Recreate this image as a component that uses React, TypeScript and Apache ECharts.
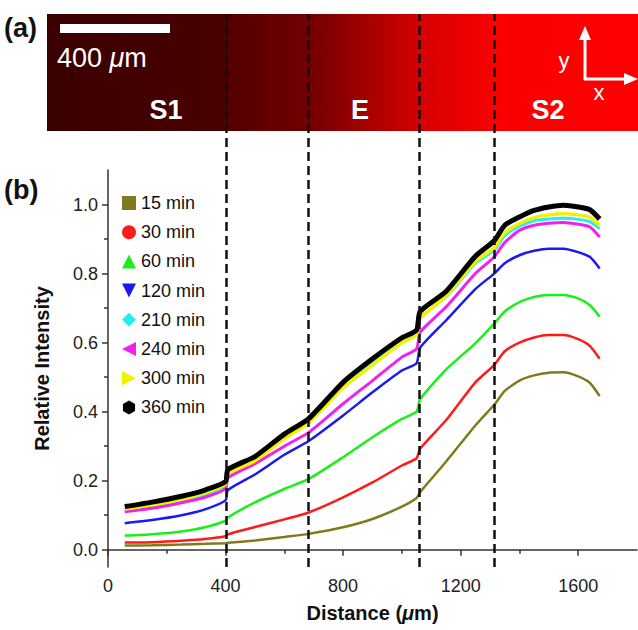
import React, { useEffect, useRef } from "react";
import * as echarts from "echarts";

// Distance positions (µm) at which the profiles were read
const DIST = [57, 150, 250, 330, 400, 408, 500, 600, 683, 800, 900, 1000, 1050, 1062, 1150, 1250, 1314, 1350, 1400, 1450, 1500, 1550, 1600, 1640, 1673];

const V15 = [0.012, 0.013, 0.015, 0.017, 0.019, 0.020, 0.027, 0.037, 0.046, 0.065, 0.089, 0.125, 0.150, 0.167, 0.255, 0.360, 0.420, 0.460, 0.490, 0.505, 0.513, 0.514, 0.502, 0.483, 0.445];
const V30 = [0.021, 0.022, 0.026, 0.031, 0.039, 0.045, 0.066, 0.088, 0.108, 0.152, 0.195, 0.244, 0.265, 0.293, 0.375, 0.485, 0.535, 0.575, 0.600, 0.615, 0.622, 0.622, 0.610, 0.590, 0.553];
const V60 = [0.041, 0.045, 0.053, 0.065, 0.084, 0.094, 0.137, 0.176, 0.205, 0.268, 0.326, 0.379, 0.400, 0.436, 0.522, 0.598, 0.655, 0.690, 0.717, 0.732, 0.738, 0.738, 0.728, 0.708, 0.675];
const V120 = [0.077, 0.086, 0.100, 0.117, 0.143, 0.173, 0.218, 0.275, 0.315, 0.389, 0.456, 0.519, 0.540, 0.585, 0.664, 0.755, 0.800, 0.830, 0.853, 0.866, 0.872, 0.872, 0.862, 0.848, 0.815];
const V210 = [0.115, 0.126, 0.142, 0.160, 0.186, 0.218, 0.262, 0.325, 0.372, 0.475, 0.540, 0.605, 0.627, 0.672, 0.732, 0.830, 0.868, 0.910, 0.937, 0.953, 0.958, 0.960, 0.957, 0.950, 0.930];
const V240 = [0.110, 0.120, 0.136, 0.152, 0.177, 0.208, 0.249, 0.300, 0.340, 0.423, 0.490, 0.558, 0.582, 0.630, 0.703, 0.800, 0.848, 0.890, 0.925, 0.940, 0.946, 0.948, 0.943, 0.935, 0.906];
const V300 = [0.118, 0.130, 0.146, 0.165, 0.190, 0.220, 0.258, 0.322, 0.368, 0.470, 0.535, 0.600, 0.622, 0.670, 0.735, 0.835, 0.875, 0.918, 0.945, 0.962, 0.970, 0.973, 0.970, 0.963, 0.940];
const V360 = [0.125, 0.138, 0.155, 0.173, 0.197, 0.232, 0.270, 0.335, 0.380, 0.485, 0.553, 0.614, 0.636, 0.690, 0.748, 0.850, 0.895, 0.940, 0.964, 0.983, 0.993, 0.998, 0.993, 0.985, 0.958];

const NAMES = ["15 min", "30 min", "60 min", "120 min", "210 min", "240 min", "300 min", "360 min"];
const VALUES = [V15, V30, V60, V120, V210, V240, V300, V360];
const COLORS = ["#807a1c", "#ff1a1a", "#1aef1a", "#1a1af0", "#22eef0", "#f020f0", "#f5f000", "#000000"];
const WIDTHS = [2.5, 2.5, 2.5, 2.5, 3, 3, 3.5, 5];
const ICONS = [
  "rect",
  "circle",
  "triangle",
  "path://M0,0L10,0L5,10Z",
  "diamond",
  "path://M10,0L10,10L0,5Z",
  "path://M0,0L0,10L10,5Z",
  "path://M5,0L9.33,2.5L9.33,7.5L5,10L0.67,7.5L0.67,2.5Z",
];

const BOUNDARIES = [404, 683, 1058, 1314];
const X_LABELS = [0, 400, 800, 1200, 1600];
const X_MINOR = [200, 600, 1000, 1400];
const Y_LABELS = [0, 0.2, 0.4, 0.6, 0.8, 1.0];
const Y_MINOR = [0.1, 0.3, 0.5, 0.7, 0.9];
const REGION_LABELS = ["S1", "E", "S2"];

const FONT = "Arial, 'Liberation Sans', sans-serif";

export default function App() {
  const ref = useRef<HTMLDivElement>(null);

  useEffect(() => {
    if (!ref.current) return;
    const chart = echarts.init(ref.current, undefined, { renderer: "svg" });

    const G = { left: 108, top: 170, width: 529, height: 397 };
    const axisLine = { show: true, lineStyle: { color: "#333", width: 1.5 } };

    const series: any[] = NAMES.map((n, i) => ({
      name: n,
      type: "line",
      xAxisIndex: 0,
      yAxisIndex: 0,
      showSymbol: false,
      symbol: "none",
      smooth: 0.2,
      color: COLORS[i],
      lineStyle: { color: COLORS[i], width: WIDTHS[i] },
      itemStyle: { color: COLORS[i] },
      data: DIST.map((d, k) => [d, VALUES[i][k]]),
      z: 2 + i * 0.01,
    }));

    series.push({
      name: "boundaries",
      type: "line",
      xAxisIndex: 2,
      yAxisIndex: 2,
      data: [],
      z: 10,
      markLine: {
        silent: true,
        symbol: ["none", "none"],
        label: { show: false },
        lineStyle: { color: "#111", width: 2.5, type: [9, 5] },
        data: BOUNDARIES.map((b) => ({ xAxis: b })),
      },
    });

    const strip = new echarts.graphic.LinearGradient(0, 0, 1, 0, [
      { offset: 0, color: "#3a0000" },
      { offset: 0.3, color: "#4a0000" },
      { offset: 0.31, color: "#540000" },
      { offset: 0.443, color: "#720000" },
      { offset: 0.63, color: "#d40000" },
      { offset: 0.756, color: "#fa0000" },
      { offset: 1, color: "#ff0000" },
    ]);

    chart.setOption({
      animation: false,
      textStyle: { fontFamily: FONT },
      grid: [
        { ...G, containLabel: false },
        { left: G.left, width: G.width, top: 14, height: 567 - 14, containLabel: false },
      ],
      legend: {
        orient: "vertical",
        left: 117,
        top: 188,
        itemWidth: 14,
        itemHeight: 14,
        itemGap: 9.2,
        textStyle: { fontSize: 18, color: "#111", lineHeight: 20, fontFamily: FONT },
        data: NAMES.map((n, i) => ({ name: n, icon: ICONS[i], itemStyle: { color: COLORS[i] } })),
      },
      xAxis: [
        {
          type: "value",
          gridIndex: 0,
          min: 0,
          max: 1800,
          axisLine,
          splitLine: { show: false },
          axisTick: { show: true, customValues: X_LABELS, length: 6, lineStyle: { color: "#333", width: 1.5 } },
          axisLabel: {
            customValues: X_LABELS,
            fontSize: 18,
            color: "#222",
            margin: 10,
            fontFamily: FONT,
            formatter: (v: number) => String(v),
          },
          name: "Distance ({i|μ}m)",
          nameLocation: "middle",
          nameGap: 36,
          nameTextStyle: {
            fontSize: 20,
            fontWeight: "bold",
            color: "#111",
            fontFamily: FONT,
            rich: { i: { fontSize: 20, fontWeight: "bold", fontStyle: "italic", color: "#111", fontFamily: FONT } },
          },
        },
        {
          type: "value",
          gridIndex: 0,
          min: 0,
          max: 1800,
          position: "bottom",
          axisLine: { show: false },
          splitLine: { show: false },
          axisTick: { show: true, customValues: X_MINOR, length: 4, lineStyle: { color: "#333", width: 1.5 } },
          axisLabel: { show: false },
        },
        {
          type: "value",
          gridIndex: 1,
          min: 0,
          max: 1800,
          show: false,
        },
      ],
      yAxis: [
        {
          type: "value",
          gridIndex: 0,
          min: -0.05,
          max: 1.1,
          axisLine,
          splitLine: { show: false },
          axisTick: { show: true, customValues: Y_LABELS, length: 6, lineStyle: { color: "#333", width: 1.5 } },
          axisLabel: {
            customValues: Y_LABELS,
            fontSize: 18,
            color: "#222",
            margin: 10,
            fontFamily: FONT,
            formatter: (v: number) => v.toFixed(1),
          },
          name: "Relative Intensity",
          nameLocation: "middle",
          nameGap: 56,
          nameTextStyle: { fontSize: 20, fontWeight: "bold", color: "#111", fontFamily: FONT },
        },
        {
          type: "value",
          gridIndex: 0,
          min: -0.05,
          max: 1.1,
          position: "left",
          axisLine: { show: false },
          splitLine: { show: false },
          axisTick: { show: true, customValues: Y_MINOR, length: 4, lineStyle: { color: "#333", width: 1.5 } },
          axisLabel: { show: false },
        },
        {
          type: "value",
          gridIndex: 1,
          min: 0,
          max: 1,
          show: false,
        },
      ],
      graphic: [
        { type: "rect", z: 0, shape: { x: 47, y: 14, width: 591, height: 117 }, style: { fill: strip } },
        { type: "rect", z: 20, shape: { x: 60, y: 24, width: 110, height: 9 }, style: { fill: "#ffffff" } },
        {
          type: "text",
          z: 20,
          x: 57,
          y: 58,
          style: {
            text: "400 {i|μ}m",
            fill: "#ffffff",
            fontSize: 27,
            fontFamily: FONT,
            verticalAlign: "middle",
            rich: { i: { fontStyle: "italic", fontSize: 27, fill: "#ffffff", fontFamily: FONT } },
          },
        },
        {
          type: "text", z: 20, x: 166, y: 110,
          style: { text: REGION_LABELS[0], fill: "#fff", fontSize: 27, fontWeight: "bold", fontFamily: FONT, align: "center", verticalAlign: "middle" },
        },
        {
          type: "text", z: 20, x: 360, y: 110,
          style: { text: REGION_LABELS[1], fill: "#fff", fontSize: 27, fontWeight: "bold", fontFamily: FONT, align: "center", verticalAlign: "middle" },
        },
        {
          type: "text", z: 20, x: 548, y: 110,
          style: { text: REGION_LABELS[2], fill: "#fff", fontSize: 27, fontWeight: "bold", fontFamily: FONT, align: "center", verticalAlign: "middle" },
        },
        { type: "line", z: 20, shape: { x1: 585, y1: 80, x2: 585, y2: 38 }, style: { stroke: "#fff", lineWidth: 3 } },
        { type: "polygon", z: 20, shape: { points: [[579, 40], [591, 40], [585, 26]] }, style: { fill: "#fff" } },
        { type: "line", z: 20, shape: { x1: 584, y1: 79, x2: 626, y2: 79 }, style: { stroke: "#fff", lineWidth: 3 } },
        { type: "polygon", z: 20, shape: { points: [[624, 73], [624, 85], [638, 79]] }, style: { fill: "#fff" } },
        {
          type: "text", z: 20, x: 564, y: 60,
          style: { text: "y", fill: "#fff", fontSize: 22, fontFamily: FONT, align: "center", verticalAlign: "middle" },
        },
        {
          type: "text", z: 20, x: 599, y: 92,
          style: { text: "x", fill: "#fff", fontSize: 22, fontFamily: FONT, align: "center", verticalAlign: "middle" },
        },
        {
          type: "text", z: 20, x: 4, y: 28,
          style: { text: "(a)", fill: "#111", fontSize: 27, fontWeight: "bold", fontFamily: FONT, verticalAlign: "middle" },
        },
        {
          type: "text", z: 20, x: 4, y: 190,
          style: { text: "(b)", fill: "#111", fontSize: 27, fontWeight: "bold", fontFamily: FONT, verticalAlign: "middle" },
        },
      ],
      series,
    });

    return () => chart.dispose();
  }, []);

  return (
    <div
      ref={ref}
      style={{ position: "fixed", left: 0, top: 0, width: 638, height: 630, background: "#fff" }}
    />
  );
}
